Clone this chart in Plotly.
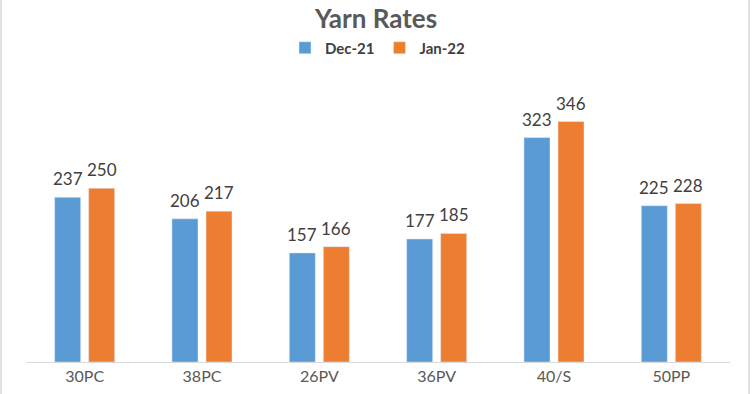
import plotly.graph_objects as go

categories = ["30PC", "38PC", "26PV", "36PV", "40/S", "50PP"]
dec21 = [237, 206, 157, 177, 323, 225]
jan22 = [250, 217, 166, 185, 346, 228]
series_names = ["Dec-21", "Jan-22"]
series_colors = ["#5B9BD5", "#ED7D31"]

FONT = "Lato, Calibri, Carlito, sans-serif"

fig = go.Figure()
for name, vals, col in zip(series_names, [dec21, jan22], series_colors):
    fig.add_trace(go.Bar(x=categories, y=vals, name="<b>" + name + "</b>", marker_color=col))

# data labels above bars (offset to each bar's centre within its group)
for vals, xs in [(dec21, -17), (jan22, 17)]:
    for c, v in zip(categories, vals):
        fig.add_annotation(x=c, y=v, text=str(v), showarrow=False, xshift=xs, yshift=6,
                           yanchor="bottom", xanchor="center",
                           font=dict(size=17, color="#404040", family=FONT))

fig.update_layout(
    width=752, height=394,
    margin=dict(l=26, r=22, t=84, b=32, autoexpand=False),
    paper_bgcolor="white", plot_bgcolor="white",
    font=dict(family=FONT, color="#595959"),
    title=dict(text="<b>Yarn Rates</b>", x=0.5, xanchor="center", y=1 - 19 / 394, yanchor="middle",
               font=dict(size=26, color="#595959", family=FONT)),
    legend=dict(orientation="h", x=0.5, xanchor="center", y=1.0 + (84 - 48) / 278, yanchor="middle",
                font=dict(size=15, color="#404040", family=FONT), itemwidth=30,
                traceorder="normal"),
    bargap=0.42, bargroupgap=0.235,
    showlegend=True,
    xaxis=dict(showline=True, linecolor="#D9D9D9", linewidth=1, ticks="",
               tickfont=dict(size=16, color="#595959", family=FONT), fixedrange=True),
    yaxis=dict(range=[0, 400], visible=False, fixedrange=True),
)

for xv in [(1 - 26) / 704, (749 - 26) / 704]:
    fig.add_shape(type="line", xref="paper", yref="paper", x0=xv, x1=xv, y0=-0.2, y1=1.4,
                  line=dict(color="#D9D9D9", width=1.5))

fig.write_html("out.html", config={"displayModeBar": False},
               post_script="document.body.style.margin='0';document.body.style.overflow='hidden';")
